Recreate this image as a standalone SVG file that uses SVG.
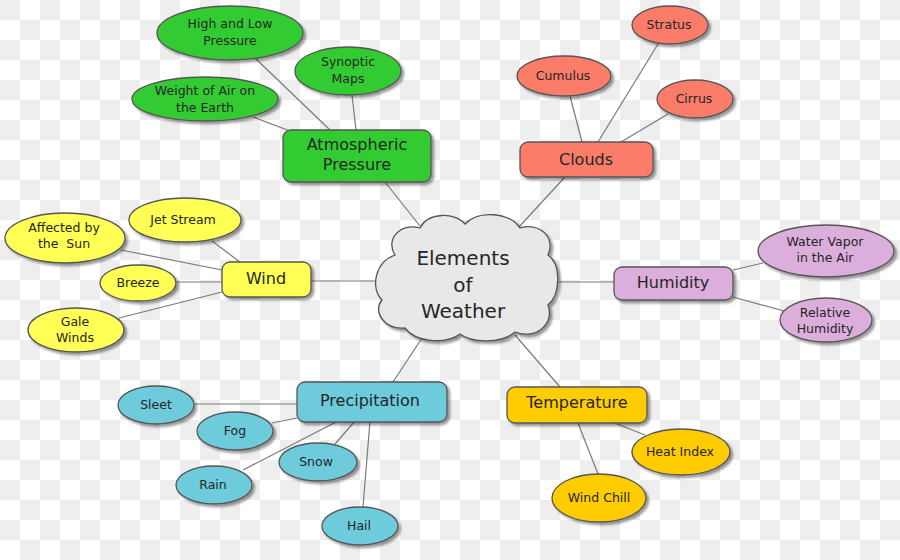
<svg xmlns="http://www.w3.org/2000/svg" width="900" height="560" viewBox="0 0 900 560">
<defs>
<pattern id="chk" width="40" height="40" patternUnits="userSpaceOnUse">
<rect width="40" height="40" fill="#ffffff"/>
<rect width="20" height="20" fill="#eeeeee"/>
<rect x="20" y="20" width="20" height="20" fill="#eeeeee"/>
</pattern>
<filter id="sh" x="-20%" y="-20%" width="150%" height="160%">
<feDropShadow dx="2.5" dy="2.5" stdDeviation="1.2" flood-color="#000" flood-opacity="0.4"/>
</filter>
</defs>
<style>
.n{stroke:#555;stroke-width:1.3;filter:url(#sh)}
.g{fill:#33cc33}.r{fill:#fa7c69}.y{fill:#ffff55}.b{fill:#6dcbdb}.o{fill:#ffcc00}.p{fill:#dcaedb}.c{fill:#e8e8e8}
text{font-family:"DejaVu Sans","Liberation Sans",sans-serif;fill:#262626;text-anchor:middle}
.s{font-size:12.5px}.m{font-size:16px}.l{font-size:20px}
.e line{stroke:#7a7a7a;stroke-width:1.2}
</style>
<rect width="900" height="560" fill="url(#chk)"/>
<g id="connectors" class="e">
<line x1="255" y1="58" x2="330" y2="130"/>
<line x1="352" y1="95" x2="356" y2="130"/>
<line x1="253" y1="117" x2="290" y2="131"/>
<line x1="385" y1="182" x2="420" y2="226"/>
<line x1="570" y1="96" x2="582" y2="142"/>
<line x1="658" y1="44" x2="598" y2="142"/>
<line x1="668" y1="114" x2="621" y2="142"/>
<line x1="565" y1="177" x2="518" y2="228"/>
<line x1="212" y1="241" x2="240" y2="262"/>
<line x1="121" y1="250" x2="222" y2="270"/>
<line x1="177" y1="282" x2="222" y2="282"/>
<line x1="119" y1="318" x2="222" y2="292"/>
<line x1="311" y1="281" x2="378" y2="281"/>
<line x1="556" y1="282" x2="614" y2="282"/>
<line x1="733" y1="270" x2="763" y2="263"/>
<line x1="733" y1="297" x2="784" y2="311"/>
<line x1="195" y1="404" x2="297" y2="404"/>
<line x1="272" y1="423" x2="297" y2="418"/>
<line x1="243" y1="470" x2="338" y2="421"/>
<line x1="335" y1="444" x2="355" y2="421"/>
<line x1="363" y1="507" x2="370" y2="421"/>
<line x1="393" y1="382" x2="422" y2="338"/>
<line x1="612" y1="422" x2="645" y2="435"/>
<line x1="578" y1="423" x2="598" y2="474"/>
<line x1="560" y1="387" x2="515" y2="335"/>
</g>
<g id="center">
<path class="n c" d="M395,255 C385,240 400,222 420,228 C428,212 455,212 465,224 C478,210 510,212 520,228 C540,222 556,238 548,255 C562,265 560,295 548,305 C555,325 535,340 515,332 C500,345 470,342 460,334 C445,345 415,342 405,328 C385,330 372,312 382,300 C370,288 375,262 395,255 Z"/>
<text class="l" x="463" y="265">Elements</text>
<text class="l" x="463" y="292">of</text>
<text class="l" x="463" y="318">Weather</text>
</g>
<g id="atmospheric-pressure">
<rect class="n g" x="283" y="130" width="148" height="52" rx="8"/>
<text class="m" x="357" y="150">Atmospheric</text>
<text class="m" x="357" y="170">Pressure</text>
</g>
<g id="high-low-pressure">
<ellipse class="n g" cx="230" cy="33" rx="73" ry="27"/>
<text class="s" x="230" y="28">High and Low</text>
<text class="s" x="230" y="45">Pressure</text>
</g>
<g id="synoptic-maps">
<ellipse class="n g" cx="348" cy="71" rx="53" ry="24"/>
<text class="s" x="348" y="66">Synoptic</text>
<text class="s" x="348" y="83">Maps</text>
</g>
<g id="weight-of-air">
<ellipse class="n g" cx="205" cy="99" rx="73" ry="22"/>
<text class="s" x="205" y="95">Weight of Air on</text>
<text class="s" x="205" y="112">the Earth</text>
</g>
<g id="clouds">
<rect class="n r" x="520" y="142" width="133" height="35" rx="8"/>
<text class="m" x="586" y="165">Clouds</text>
</g>
<g id="stratus">
<ellipse class="n r" cx="670" cy="25" rx="38" ry="19"/>
<text class="s" x="669" y="29">Stratus</text>
</g>
<g id="cumulus">
<ellipse class="n r" cx="564" cy="76" rx="47" ry="20"/>
<text class="s" x="563" y="80">Cumulus</text>
</g>
<g id="cirrus">
<ellipse class="n r" cx="695" cy="99" rx="38" ry="19"/>
<text class="s" x="694" y="103">Cirrus</text>
</g>
<g id="wind">
<rect class="n y" x="222" y="262" width="89" height="35" rx="8"/>
<text class="m" x="266" y="284">Wind</text>
</g>
<g id="jet-stream">
<ellipse class="n y" cx="185" cy="220" rx="56" ry="22"/>
<text class="s" x="183" y="224">Jet Stream</text>
</g>
<g id="affected-by-sun">
<ellipse class="n y" cx="65" cy="238" rx="60" ry="25"/>
<text class="s" x="64" y="232">Affected by</text>
<text class="s" x="64" y="248" xml:space="preserve">the  Sun</text>
</g>
<g id="breeze">
<ellipse class="n y" cx="138" cy="283" rx="38" ry="18"/>
<text class="s" x="138" y="287">Breeze</text>
</g>
<g id="gale-winds">
<ellipse class="n y" cx="76" cy="330" rx="48" ry="22"/>
<text class="s" x="75" y="326">Gale</text>
<text class="s" x="75" y="342">Winds</text>
</g>
<g id="humidity">
<rect class="n p" x="614" y="267" width="119" height="33" rx="8"/>
<text class="m" x="673" y="288">Humidity</text>
</g>
<g id="water-vapor">
<ellipse class="n p" cx="826" cy="251" rx="68" ry="26"/>
<text class="s" x="825" y="246">Water Vapor</text>
<text class="s" x="825" y="262">in the Air</text>
</g>
<g id="relative-humidity">
<ellipse class="n p" cx="826" cy="320" rx="46" ry="22"/>
<text class="s" x="825" y="317">Relative</text>
<text class="s" x="825" y="333">Humidity</text>
</g>
<g id="precipitation">
<rect class="n b" x="297" y="382" width="150" height="40" rx="8"/>
<text class="m" x="370" y="406">Precipitation</text>
</g>
<g id="sleet">
<ellipse class="n b" cx="156" cy="405" rx="38" ry="19"/>
<text class="s" x="156" y="409">Sleet</text>
</g>
<g id="fog">
<ellipse class="n b" cx="235" cy="431" rx="38" ry="19"/>
<text class="s" x="235" y="435">Fog</text>
</g>
<g id="rain">
<ellipse class="n b" cx="214" cy="485" rx="38" ry="19"/>
<text class="s" x="213" y="489">Rain</text>
</g>
<g id="snow">
<ellipse class="n b" cx="318" cy="462" rx="39" ry="19"/>
<text class="s" x="316" y="466">Snow</text>
</g>
<g id="hail">
<ellipse class="n b" cx="360" cy="526" rx="38" ry="19"/>
<text class="s" x="359" y="530">Hail</text>
</g>
<g id="temperature">
<rect class="n o" x="507" y="387" width="140" height="36" rx="8"/>
<text class="m" x="577" y="408">Temperature</text>
</g>
<g id="heat-index">
<ellipse class="n o" cx="681" cy="452" rx="49" ry="23"/>
<text class="s" x="680" y="456">Heat Index</text>
</g>
<g id="wind-chill">
<ellipse class="n o" cx="599" cy="498" rx="47" ry="24"/>
<text class="s" x="599" y="502">Wind Chill</text>
</g>
</svg>
